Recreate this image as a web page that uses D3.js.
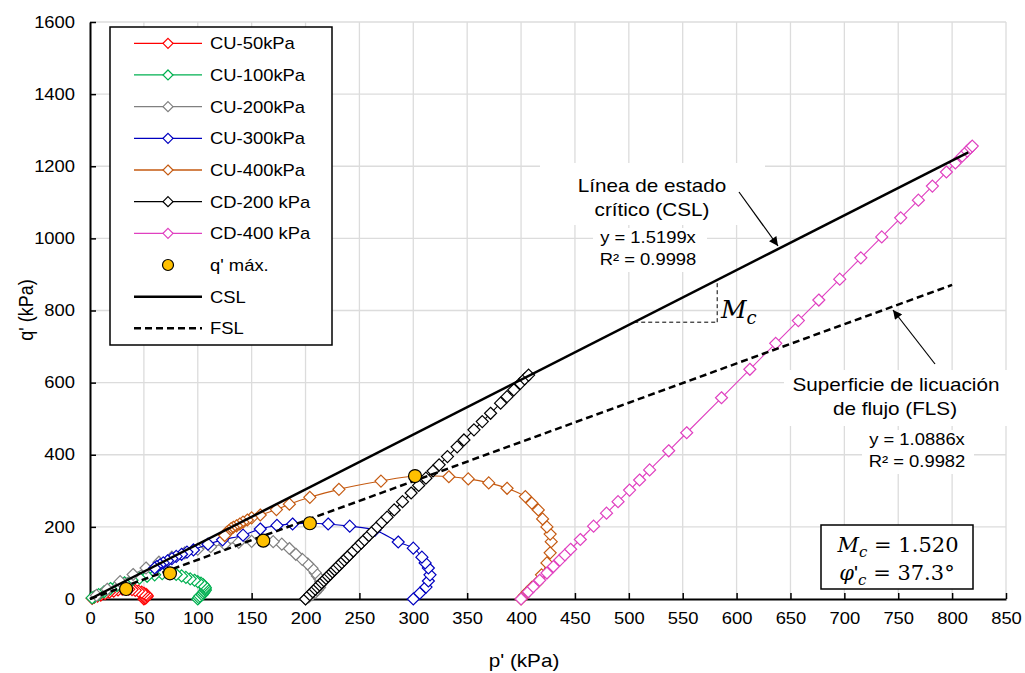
<!DOCTYPE html>
<html>
<head>
<meta charset="utf-8">
<script src="https://cdn.jsdelivr.net/npm/d3@7"></script>
<style>
  html, body { margin: 0; padding: 0; background: #fff; }
  svg { display: block; font-family: "Liberation Sans", Arial, sans-serif; }
</style>
</head>
<body>
<svg id="chart" width="1025" height="673"></svg>
<script>
// Stress paths p'–q' (kPa)
const seriesNames = ["CU-50kPa", "CU-100kPa", "CU-200kPa", "CU-300kPa", "CU-400kPa", "CD-200 kPa", "CD-400 kPa"];
const seriesColors = ["#ff0000", "#00b050", "#808080", "#0000c0", "#c55a11", "#000000", "#e040c0"];

const cu50 = [[50,0],[51,2],[52,4],[53,7],[53,10],[52,13],[50,16],[48,19],[45,22],[42,24],[39,26],[36,27],[33.5,27.7],[30,27],[26,25],[22,22],[18,19],[14,15],[10,11],[7,8],[4,5],[2,2]];
const cu100 = [[100,0],[101,4],[102,8],[104,12],[105,16],[106,20],[107,24],[107,28],[107,32],[106,36],[105,40],[103,44],[100,48],[97,52],[93,56],[89,60],[85,64],[80,68],[74.2,71.3],[67,70],[60,67],[53,63],[46,58],[39,52],[32,45],[25,37],[19,29],[13,20],[8,12],[4,6],[2,3]];
const cu200 = [[200,0],[203,6],[206,12],[209,18],[211,25],[213,32],[214,40],[214,48],[213,56],[211,64],[209,73],[206,85],[202,97],[197,110],[191,124],[185,140],[178,152],[170,159],[160.8,161.7],[150,160],[138,157],[125,152],[112,145],[100,138],[88,128],[76,116],[64,102],[52,86],[40,68],[28,48],[16,27],[6,10]];
const cu300 = [[300,0],[306,16],[311.8,33],[314,50],[315.5,67],[314,86],[311,100],[308,116],[300,141],[286,158],[264.5,191],[241,202],[221,208],[204,210],[188,208],[173.5,204],[158,194],[142,177],[123,164],[109.5,152],[96,136],[90,130],[85,124],[80,118],[76,112],[72,106],[68,100],[65,95],[62,90],[60,86]];
const cu400 = [[400,0],[403,10],[406,20],[410,32],[414.5,44],[419,67],[424,100],[427,128],[428,159],[427,180],[424,200],[420,222],[416,247],[410,266],[404,284],[387,307],[370,322],[351,333],[333,339],[301.6,341],[270,327],[231,304],[204,282],[185,263],[173,248],[158,233],[150,225],[146,219],[142,213],[139,208],[136,203],[133,199],[131,195],[129,190],[127,185],[126,180],[125,176]];
const cd200 = [[200,0],[204,12],[206.7,20],[209,27],[211,33],[213,39],[215,45],[217,51],[219,57],[221,63],[223,69],[225,75],[227,81],[229,87],[231.3,94],[233.7,101],[236,108],[238.3,115],[240.7,122],[244.3,133],[248.3,145],[251.7,155],[254.7,164],[258.7,176],[262.3,187],[266.7,200],[271,213],[275.7,227],[282.3,247],[290,270],[298,294],[305,315],[311.7,335],[318.3,355],[324,372],[331.7,395],[340.7,422],[347,441],[356.3,469],[364,492],[371.7,515],[381,543],[387,561],[393.3,580],[399.3,598],[403.3,610],[407,621]];
const cd400 = [[400,0],[406.7,20],[411.3,34],[417.3,52],[424,72],[430,90],[436,108],[440.7,122],[446,138],[455,165],[467.3,202],[479.3,238],[490,270],[500.7,302],[510,330],[519.3,358],[537,411],[553.7,461],[586,558],[612.3,637],[636.3,709],[657.3,772],[676.3,829],[695.7,887],[715.3,946],[734.7,1004],[752.3,1057],[768.7,1106],[781.7,1145],[794.7,1184],[803,1209],[809.3,1228],[814,1242],[817,1251],[818.7,1256]];
const seriesData = [cu50, cu100, cu200, cu300, cu400, cd200, cd400];

// Peak deviatoric stress of each undrained test
const qMax = [[33.5,27.7],[74.2,71.3],[160.8,161.7],[204,210],[301.6,341]];

// Fitted lines
const cslSlope = 1.5199, cslR2 = 0.9998, cslEnd = 815;
const fslSlope = 1.0886, fslR2 = 0.9982, fslEnd = 800;

// Axes
const xTicks = d3.range(0, 851, 50);
const yTicks = d3.range(0, 1601, 200);

const SX = 1.15;   // horizontal stretch applied to all text
const svg = d3.select("#chart");
const x = d3.scaleLinear().domain([0, 850]).range([90, 1006]);
const y = d3.scaleLinear().domain([0, 1600]).range([599, 22]);

// gridlines
const grid = svg.append("g").attr("stroke", "#dcdcdc").attr("stroke-width", 1.3);
grid.selectAll(".gx").data(xTicks.filter(d => d > 0)).join("line")
  .attr("x1", d => x(d)).attr("x2", d => x(d)).attr("y1", y(0)).attr("y2", y(1600));
grid.selectAll(".gy").data(yTicks.filter(d => d > 0)).join("line")
  .attr("x1", x(0)).attr("x2", x(850)).attr("y1", d => y(d)).attr("y2", d => y(d));

function stext(g, px, py, str, size, anchor) {
  return g.append("text")
    .attr("transform", `translate(${px},${py}) scale(${SX},1)`)
    .attr("text-anchor", anchor || "middle")
    .attr("font-size", size)
    .attr("fill", "#000")
    .text(str);
}

// white text boxes of the annotations
const boxes = svg.append("g").attr("fill", "#fff");
boxes.append("rect").attr("x", 540).attr("y", 163).attr("width", 225).attr("height", 62);
boxes.append("rect").attr("x", 593).attr("y", 228).attr("width", 114).attr("height", 44);
boxes.append("rect").attr("x", 784).attr("y", 370).attr("width", 226).attr("height", 56);
boxes.append("rect").attr("x", 862).attr("y", 430).attr("width", 112).attr("height", 44);

// axes
const xAxis = d3.axisBottom(x).tickValues(xTicks).tickFormat(d3.format("d"))
  .tickSizeInner(-6).tickSizeOuter(0).tickPadding(14);
const yAxis = d3.axisLeft(y).tickValues(yTicks).tickFormat(d3.format("d"))
  .tickSizeInner(-6).tickSizeOuter(0).tickPadding(13);
const gx = svg.append("g").attr("transform", `translate(0,${y(0)})`).call(xAxis);
const gy = svg.append("g").attr("transform", `translate(${x(0)},0)`).call(yAxis);
[gx, gy].forEach(g => {
  g.select(".domain").attr("stroke", "#000").attr("stroke-width", 2);
  g.selectAll(".tick line").attr("stroke", "#000").attr("stroke-width", 1.5);
  g.selectAll(".tick text").attr("font-size", 16).attr("font-family", "Liberation Sans, Arial, sans-serif")
    .attr("fill", "#000").attr("transform", `scale(${SX},1)`);
});

// axis titles
stext(svg, 524, 667, "p' (kPa)", 18);
svg.append("text").attr("transform", `translate(33,310) rotate(-90) scale(1,${SX})`)
  .attr("text-anchor", "middle").attr("font-size", 18).text("q' (kPa)");

// series
const diamond = "M0,-6L6,0L0,6L-6,0Z";
const legDiamond = "M0,-5L5,0L0,5L-5,0Z";
const curveLine = d3.line().x(d => x(d[0])).y(d => y(d[1])).curve(d3.curveCatmullRom.alpha(0.5));
const straightLine = d3.line().x(d => x(d[0])).y(d => y(d[1]));

seriesData.forEach((data, i) => {
  const g = svg.append("g");
  g.append("path").datum(data)
    .attr("d", i < 5 ? curveLine : straightLine)
    .attr("fill", "none").attr("stroke", seriesColors[i]).attr("stroke-width", 1.1);
  g.selectAll("path.m").data(data).join("path").attr("class", "m")
    .attr("d", diamond)
    .attr("transform", d => `translate(${x(d[0])},${y(d[1])})`)
    .attr("fill", "#fff").attr("stroke", seriesColors[i]).attr("stroke-width", 1.2);
});

// CSL and FSL
svg.append("line").attr("x1", x(0)).attr("y1", y(0)).attr("x2", x(cslEnd)).attr("y2", y(cslSlope * cslEnd))
  .attr("stroke", "#000").attr("stroke-width", 2.5);
svg.append("line").attr("x1", x(0)).attr("y1", y(0)).attr("x2", x(fslEnd)).attr("y2", y(fslSlope * fslEnd))
  .attr("stroke", "#000").attr("stroke-width", 2.5).attr("stroke-dasharray", "7,4");

// q' max points
svg.append("g").selectAll("circle").data(qMax).join("circle")
  .attr("cx", d => x(d[0])).attr("cy", d => y(d[1])).attr("r", 6.5)
  .attr("fill", "#ffc000").attr("stroke", "#000").attr("stroke-width", 1.2);

// slope triangle Mc
const triP0 = 505, triP1 = 582;
const tri = svg.append("g").attr("stroke", "#000").attr("stroke-width", 1).attr("stroke-dasharray", "4,3").attr("fill", "none");
tri.append("line").attr("x1", x(triP0)).attr("x2", x(triP1)).attr("y1", y(cslSlope * triP0)).attr("y2", y(cslSlope * triP0));
tri.append("line").attr("x1", x(triP1)).attr("x2", x(triP1)).attr("y1", y(cslSlope * triP0)).attr("y2", y(cslSlope * triP1));
const mc = svg.append("text").attr("x", 721).attr("y", 318).attr("font-family", "DejaVu Serif, serif")
  .attr("font-style", "italic").attr("font-size", 25);
mc.append("tspan").text("M");
mc.append("tspan").attr("dy", 6).attr("font-size", 18).text("c");

// arrows
const defs = svg.append("defs");
defs.append("marker").attr("id", "arr").attr("viewBox", "0 0 10 10").attr("refX", 10).attr("refY", 5)
  .attr("markerWidth", 11).attr("markerHeight", 9).attr("markerUnits", "userSpaceOnUse").attr("orient", "auto")
  .append("path").attr("d", "M0,0L10,5L0,10Z").attr("fill", "#000");
svg.append("line").attr("x1", 739).attr("y1", 192).attr("x2", 778).attr("y2", 246)
  .attr("stroke", "#000").attr("stroke-width", 1.2).attr("marker-end", "url(#arr)");
svg.append("line").attr("x1", 935).attr("y1", 364).attr("x2", 893).attr("y2", 310)
  .attr("stroke", "#000").attr("stroke-width", 1.2).attr("marker-end", "url(#arr)");

// annotations
stext(svg, 652, 192, "Línea de estado", 18);
stext(svg, 652, 216, "crítico (CSL)", 18);
stext(svg, 648, 243, `y = ${cslSlope}x`, 16);
stext(svg, 648, 265, `R² = ${cslR2}`, 16);
stext(svg, 896, 391, "Superficie de licuación", 18);
stext(svg, 895, 415, "de flujo (FLS)", 18);
stext(svg, 917, 445, `y = ${fslSlope}x`, 16);
stext(svg, 917, 467, `R² = ${fslR2}`, 16);

// parameter box
svg.append("rect").attr("x", 821).attr("y", 525).attr("width", 152).attr("height", 64)
  .attr("fill", "#fff").attr("stroke", "#000").attr("stroke-width", 1.5);
const b1 = svg.append("text").attr("x", 898).attr("y", 552).attr("text-anchor", "middle")
  .attr("font-family", "DejaVu Serif, serif").attr("font-size", 21);
b1.append("tspan").attr("font-style", "italic").text("M");
b1.append("tspan").attr("font-style", "italic").attr("dy", 5).attr("font-size", 15).text("c");
b1.append("tspan").attr("dy", -5).text(" = 1.520");
const b2 = svg.append("text").attr("x", 897).attr("y", 580).attr("text-anchor", "middle")
  .attr("font-family", "DejaVu Serif, serif").attr("font-size", 21);
b2.append("tspan").attr("font-style", "italic").text("φ");
b2.append("tspan").attr("font-family", "Liberation Sans, sans-serif").text("'");
b2.append("tspan").attr("font-style", "italic").attr("dy", 5).attr("font-size", 15).text("c");
b2.append("tspan").attr("dy", -5).text(" = 37.3°");

// legend
const leg = svg.append("g");
leg.append("rect").attr("x", 110).attr("y", 27).attr("width", 222).attr("height", 318)
  .attr("fill", "#fff").attr("stroke", "#000").attr("stroke-width", 1.5);
const legRows = seriesNames.map((n, i) => ({ name: n, type: "series", color: seriesColors[i] }))
  .concat([{ name: "q' máx.", type: "dot" }, { name: "CSL", type: "solid" }, { name: "FSL", type: "dash" }]);
legRows.forEach((r, i) => {
  const cy = 43.3 + i * 31.67;
  if (r.type === "series") {
    leg.append("line").attr("x1", 134).attr("x2", 202).attr("y1", cy).attr("y2", cy).attr("stroke", r.color).attr("stroke-width", 1.3);
    leg.append("path").attr("d", legDiamond).attr("transform", `translate(168,${cy})`).attr("fill", "#fff").attr("stroke", r.color).attr("stroke-width", 1.2);
  } else if (r.type === "dot") {
    leg.append("circle").attr("cx", 168).attr("cy", cy).attr("r", 5.5).attr("fill", "#ffc000").attr("stroke", "#000").attr("stroke-width", 1.2);
  } else {
    leg.append("line").attr("x1", 134).attr("x2", 202).attr("y1", cy).attr("y2", cy).attr("stroke", "#000").attr("stroke-width", 2.5)
      .attr("stroke-dasharray", r.type === "dash" ? "7,4" : null);
  }
  stext(leg, 210, cy + 6, r.name, 16, "start");
});
</script>
</body>
</html>
